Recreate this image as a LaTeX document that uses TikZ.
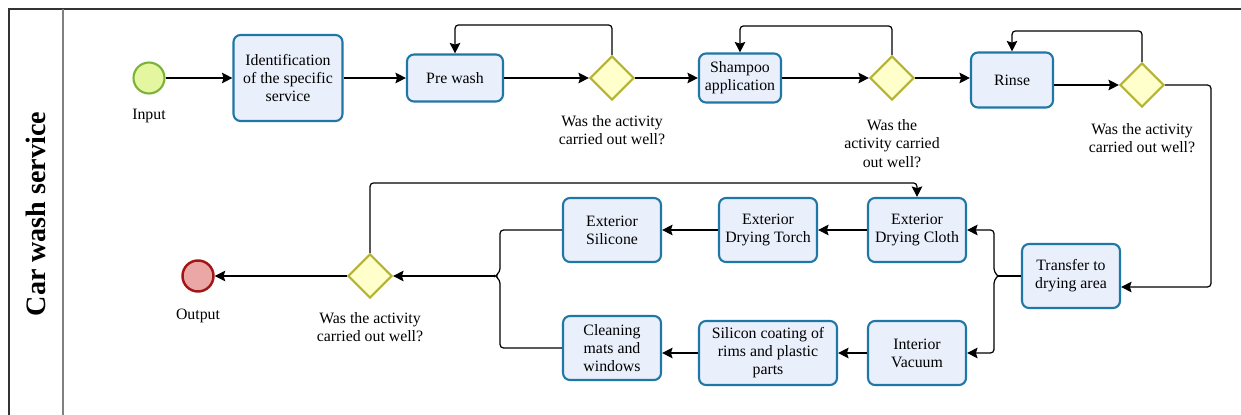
\documentclass[tikz,border=0pt]{standalone}
\usepackage{fontspec}
\setmainfont{Liberation Serif}
\usetikzlibrary{shapes.geometric, arrows.meta, positioning}
\definecolor{taskline}{RGB}{31,119,166}
\definecolor{taskfill}{RGB}{234,239,252}
\definecolor{gateline}{RGB}{180,180,50}
\definecolor{gatefill}{RGB}{255,255,204}
\definecolor{startline}{RGB}{122,178,58}
\definecolor{startfill}{RGB}{228,247,160}
\definecolor{endline}{RGB}{162,22,22}
\definecolor{endfill}{RGB}{235,166,166}
\newcommand*{\boxWidth}{19.6mm}
\newcommand*{\boxHeight}{12.8mm}
\tikzset{
    point/.style      = {coordinate},
    arrow/.style      = {->, >={Stealth[length=6pt, width=6pt, inset=1pt]}, line width=0.7pt, rounded corners=2pt},
    link/.style       = {line width=0.7pt, rounded corners=2pt},
    task/.style       = {draw=taskline, fill=taskfill, line width=1.2pt, rectangle, rounded corners=4pt, minimum width=\boxWidth, minimum height=\boxHeight, align=center, inner sep=1pt},
    gateway/.style    = {draw=gateline, fill=gatefill, line width=1.2pt, diamond, minimum width=8.8mm, minimum height=8.8mm, inner sep=0pt},
    startevent/.style = {draw=startline, fill=startfill, line width=1.2pt, circle, minimum size=6.2mm, inner sep=0pt},
    endevent/.style   = {draw=endline, fill=endfill, line width=1.4pt, circle, minimum size=6.2mm, inner sep=0pt},
    note/.style       = {align=center, inner sep=0pt},
    lane/.style       = {line width=0.8pt}
}

\begin{document}
\begin{tikzpicture}[x=0.02cm, y=-0.02cm, every node/.style={font=\fontsize{9}{10.3}\selectfont}]
	\useasboundingbox (0,0) rectangle (1241,415);

	% pool and lane
	\draw [lane, draw=black!80] (9,415) -- (9,9) -- (1241,9);
	\draw [lane, draw=black!50] (63,9) -- (63,415);
	\node (title) [rotate=90, font=\bfseries\fontsize{16}{19}\selectfont] at (36,214) {Car wash service};

	\node (in)     [startevent] at (149,78) {};
	\node (inlbl)  [note, below=2.8mm of in] {Input};
	\node (ident)  [task, minimum width=21.8mm, minimum height=17.2mm] at (288,78) {Identification\\of the specific\\service};
	\node (pre)    [task, minimum width=19.2mm, minimum height=9.4mm] at (455,78) {Pre wash};
	\node (g1)     [gateway] at (612,78) {};
	\node (g1lbl)  [note, below=2.9mm of g1] {Was the activity\\carried out well?};
	\node (sham)   [task, minimum width=16.4mm, minimum height=9.8mm] at (740,78) {Shampoo\\application};
	\node (g2)     [gateway] at (892,78) {};
	\node (g2lbl)  [note, below=3.7mm of g2] {Was the\\activity carried\\out well?};
	\node (rinse)  [task, minimum width=16.4mm, minimum height=11mm] at (1012,80) {Rinse};
	\node (g3)     [gateway] at (1142,85) {};
	\node (g3lbl)  [note, below=3.1mm of g3] {Was the activity\\carried out well?};
	\node (trans)  [task] at (1071,276) {Transfer to\\drying area};
	\node (cloth)  [task] at (917,230) {Exterior\\Drying Cloth};
	\node (vac)    [task] at (917,353) {Interior\\Vacuum};
	\node (torch)  [task] at (768,230) {Exterior\\Drying Torch};
	\node (sili)   [task] at (612,230) {Exterior\\Silicone};
	\node (coat)   [task, minimum width=27.6mm] at (768,353) {Silicon coating of\\rims and plastic\\parts};
	\node (mats)   [task] at (612,348) {Cleaning\\mats and\\windows};
	\node (g4)     [gateway] at (370,276) {};
	\node (g4lbl)  [note, below=2.7mm of g4] {Was the activity\\carried out well?};
	\node (out)    [endevent] at (198,276) {};
	\node (outlbl) [note, below=3.2mm of out] {Output};
	\node (c3)     [point] at (1211,287) {};
	\node (jr)     [point] at (998,276) {};
	\node (jl)     [point] at (495,276) {};

	\draw [arrow] (in) -- (ident);
	\draw [arrow] (ident) -- (pre);
	\draw [arrow] (pre) -- (g1);
	\draw [arrow] (g1.north) -- ++(0,-30) -| (pre.north);
	\draw [arrow] (g1) -- (sham);
	\draw [arrow] (sham) -- (g2);
	\draw [arrow] (g2.north) -- ++(0,-29) -| (sham.north);
	\draw [arrow] (g2.east) -- (g2.east -| rinse.west);
	\draw [arrow] (rinse.east |- g3) -- (g3.west);
	\draw [arrow] (g3.north) -- ++(0,-31) -| (rinse.north);
	\draw [arrow] (g3.east) -| (c3) -- (c3 -| trans.east);
	\draw [link]  (trans) -- (jr);
	\draw [arrow] (jr) -- ++(-4,-4) |- (cloth.east);
	\draw [arrow] (jr) -- ++(-4,4) |- (vac.east);
	\draw [arrow] (cloth) -- (torch);
	\draw [arrow] (torch) -- (sili);
	\draw [arrow] (vac) -- (coat);
	\draw [arrow] (coat.west) -- (coat.west -| mats.east);
	\draw [link]  (sili.west) -| ([shift={(5,-4)}]jl) -- (jl) -- ([shift={(5,4)}]jl) |- (mats.west);
	\draw [arrow] (jl) -- (g4);
	\draw [arrow] (g4.north) -- ++(0,-70) -| (cloth.north);
	\draw [arrow] (g4) -- (out);
\end{tikzpicture}
\end{document}
